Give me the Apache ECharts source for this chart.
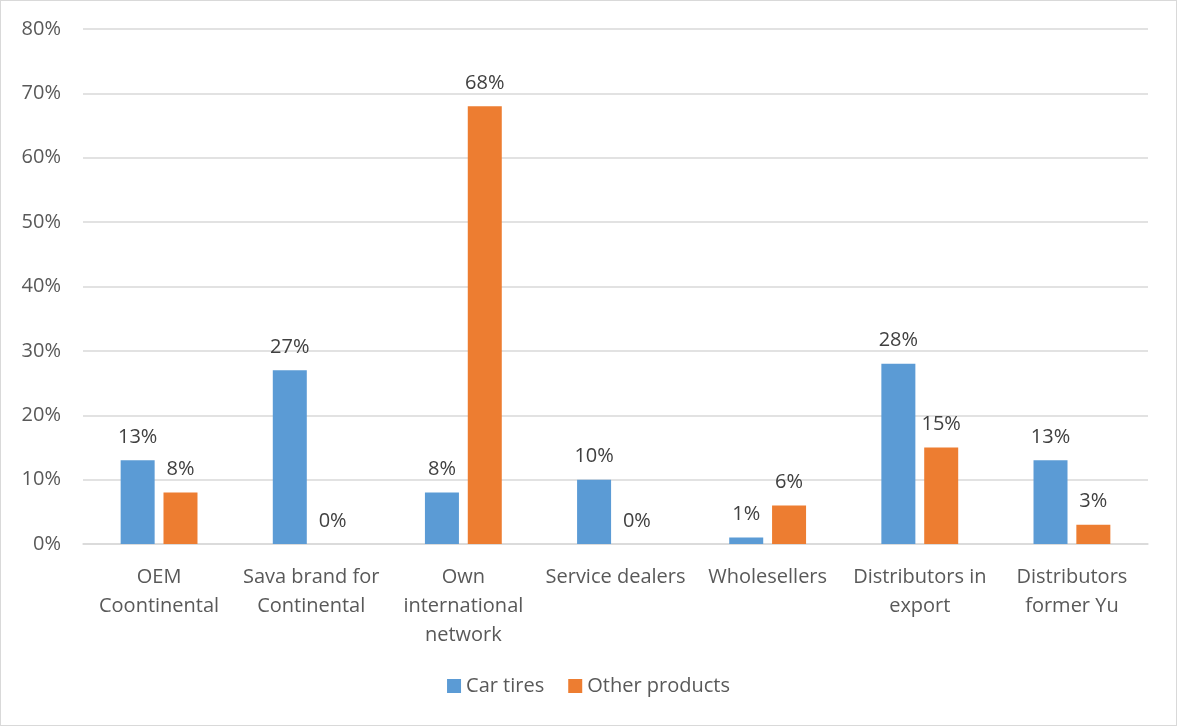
<!DOCTYPE html>
<html><head><meta charset="utf-8">
<script src="https://cdn.jsdelivr.net/npm/echarts@6/dist/echarts.min.js"></script>
<style>html,body{margin:0;padding:0;background:#fff;}#c{width:1175px;height:724px;border:1px solid #d9d9d9;}</style>
</head><body><div id="c"></div>
<script>
var categories = ["OEM\nCoontinental","Sava brand for\nContinental","Own\ninternational\nnetwork","Service dealers","Wholesellers","Distributors in\nexport","Distributors\nformer Yu"];
var carTires = [13,27,8,10,1,28,13];
var otherProducts = [8,0,68,0,6,15,3];
var yTicks = [0,10,20,30,40,50,60,70,80];
var FONT = "'Open Sans', 'Liberation Sans', sans-serif";
var chart = echarts.init(document.getElementById('c'));
var lbl = {show:true, position:'top', distance:13, formatter:function(p){return p.value+'%';}, color:'#404040', fontSize:20, fontFamily:FONT};
chart.setOption({
  animation:false,
  grid:{left:82,right:28,top:28,bottom:181},
  legend:{bottom:24,left:'center',itemWidth:14,itemHeight:14,itemGap:24,icon:'rect',textStyle:{color:'#595959',fontSize:20,fontFamily:FONT},data:['Car tires','Other products']},
  xAxis:{type:'category',data:categories,axisLine:{lineStyle:{color:'#d9d9d9',width:1.5}},axisTick:{show:false},
    axisLabel:{color:'#595959',fontSize:20,fontFamily:FONT,lineHeight:29,margin:19,interval:0}},
  yAxis:{type:'value',min:0,max:80,interval:10,axisLine:{show:false},axisTick:{show:false},
    splitLine:{lineStyle:{color:'#d9d9d9',width:1.5}},
    axisLabel:{color:'#595959',fontSize:20,fontFamily:FONT,margin:22,formatter:function(v){return yTicks.indexOf(v)>=0? v+'%':'';}}},
  series:[
    {name:'Car tires',type:'bar',data:carTires,itemStyle:{color:'#5b9bd5'},barWidth:34,barGap:'26%',label:lbl},
    {name:'Other products',type:'bar',data:otherProducts,itemStyle:{color:'#ed7d31'},barWidth:34,label:lbl}
  ]
});
</script></body></html>
